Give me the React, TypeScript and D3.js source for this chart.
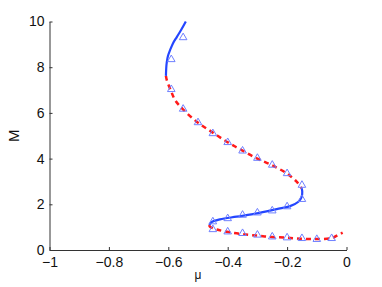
import React, { useRef, useEffect } from "react";
import * as d3 from "d3";

// upper stable branch (solid blue)
const upperMu = [-0.541, -0.556, -0.571, -0.584, -0.594, -0.601, -0.605, -0.607, -0.608];
const upperM = [10, 9.65, 9.33, 9.05, 8.75, 8.5, 8.23, 7.95, 7.62];

// middle unstable branch (dashed red)
const midUnstableMu = [-0.608, -0.605, -0.592, -0.577, -0.553, -0.504, -0.454, -0.403, -0.353, -0.302, -0.252, -0.201, -0.168, -0.151];
const midUnstableM = [7.62, 7.43, 7.0, 6.56, 6.19, 5.61, 5.17, 4.74, 4.37, 4.01, 3.72, 3.35, 2.99, 2.7];

// lower stable branch (solid blue)
const lowerStableMu = [-0.151, -0.149, -0.151, -0.162, -0.19, -0.235, -0.302, -0.37, -0.426, -0.454, -0.462];
const lowerStableM = [2.7, 2.55, 2.33, 2.11, 1.92, 1.79, 1.6, 1.46, 1.34, 1.22, 1.09];

// bottom unstable branch (dashed red)
const bottomMu = [-0.462, -0.46, -0.437, -0.403, -0.353, -0.302, -0.252, -0.201, -0.151, -0.1, -0.05, -0.028, -0.013];
const bottomM = [1.09, 1.02, 0.9, 0.8, 0.7, 0.63, 0.57, 0.54, 0.49, 0.48, 0.52, 0.66, 0.76];

// simulation markers (triangles)
const markMu = [-0.55, -0.59, -0.59, -0.55, -0.5, -0.45, -0.4, -0.35, -0.3, -0.25, -0.2, -0.15,
  -0.15, -0.2, -0.25, -0.3, -0.35, -0.4, -0.45,
  -0.45, -0.4, -0.35, -0.3, -0.25, -0.2, -0.15, -0.1, -0.05];
const markM = [9.3, 8.34, 7.03, 6.17, 5.58, 5.1, 4.71, 4.34, 4.02, 3.72, 3.35, 2.84,
  2.22, 1.9, 1.72, 1.63, 1.53, 1.38, 1.24,
  0.9, 0.8, 0.73, 0.66, 0.58, 0.54, 0.51, 0.47, 0.51];

const xTicks = [-1, -0.8, -0.6, -0.4, -0.2, 0];
const yTicks = [0, 2, 4, 6, 8, 10];

const App = () => {
  const svgRef = useRef<SVGSVGElement>(null);

  useEffect(() => {
    if (!svgRef.current) return;
    const width = 382;
    const height = 287;
    const margin = { top: 21.5, right: 35.5, bottom: 37, left: 49.5 };

    d3.select(svgRef.current).selectAll("*").remove();
    const svg = d3.select(svgRef.current).attr("width", width).attr("height", height);

    const x = d3.scaleLinear().domain([-1, 0]).range([margin.left, width - margin.right]);
    const y = d3.scaleLinear().domain([0, 10]).range([height - margin.bottom, margin.top]);

    const line = d3
      .line<[number, number]>()
      .x((d) => x(d[0]))
      .y((d) => y(d[1]))
      .curve(d3.curveCatmullRom.alpha(0.5));

    const zip = (a: number[], b: number[]) => a.map((v, i) => [v, b[i]] as [number, number]);

    const solid = [zip(upperMu, upperM), zip(lowerStableMu, lowerStableM)];
    const dashed = [zip(midUnstableMu, midUnstableM), zip(bottomMu, bottomM)];

    dashed.forEach((pts) => {
      svg.append("path")
        .attr("d", line(pts))
        .attr("fill", "none")
        .attr("stroke", "#ff1a1a")
        .attr("stroke-width", 2.5)
        .attr("stroke-dasharray", "5 4");
    });

    solid.forEach((pts) => {
      svg.append("path")
        .attr("d", line(pts))
        .attr("fill", "none")
        .attr("stroke", "#2446ff")
        .attr("stroke-width", 2.2);
    });

    const tri = d3.symbol().type(d3.symbolTriangle).size(25);
    svg.append("g")
      .selectAll("path")
      .data(zip(markMu, markM))
      .enter()
      .append("path")
      .attr("d", tri)
      .attr("transform", (d) => `translate(${x(d[0])},${y(d[1])})`)
      .attr("fill", "none")
      .attr("stroke", "#6f80ff")
      .attr("stroke-width", 1);

    // axes
    const xAxis = svg.append("g")
      .attr("transform", `translate(0,${y(0)})`)
      .call(d3.axisBottom(x).tickValues(xTicks).tickSizeInner(-3).tickSizeOuter(0).tickPadding(7)
        .tickFormat((d) => (+d === 0 ? "0" : d3.format("")(+d).replace("-", "\u2212"))));
    const yAxis = svg.append("g")
      .attr("transform", `translate(${x(-1)},0)`)
      .call(d3.axisLeft(y).tickValues(yTicks).tickSizeInner(-3).tickSizeOuter(0).tickPadding(5));

    [xAxis, yAxis].forEach((g) => {
      g.selectAll(".domain").attr("stroke", "#333").attr("stroke-width", 1);
      g.selectAll(".tick line").attr("stroke", "#333");
      g.selectAll("text")
        .style("font-family", "'Liberation Sans', Arial, sans-serif")
        .style("font-size", "14px")
        .attr("fill", "#111");
    });

    svg.append("text")
      .attr("x", x(-0.5))
      .attr("y", 279)
      .attr("text-anchor", "middle")
      .style("font-family", "'Liberation Sans', Arial, sans-serif")
      .style("font-size", "12px")
      .attr("fill", "#111")
      .text("\u03bc");

    svg.append("text")
      .attr("transform", `translate(19,${y(5)}) rotate(-90)`)
      .attr("text-anchor", "middle")
      .style("font-family", "'Liberation Sans', Arial, sans-serif")
      .style("font-size", "15px")
      .attr("fill", "#111")
      .text("M");
  }, []);

  return <svg ref={svgRef} style={{ position: "absolute", left: 0, top: 0 }} />;
};

export default App;
